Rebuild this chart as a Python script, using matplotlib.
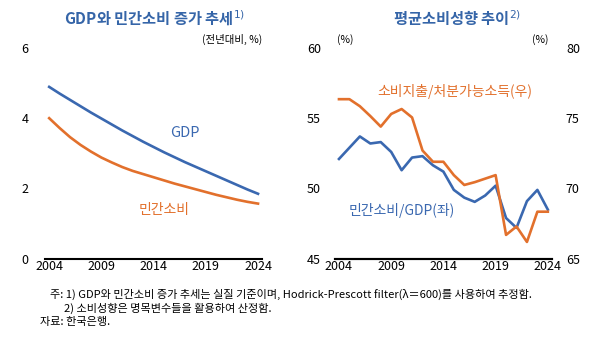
import matplotlib.pyplot as plt

plt.rcParams['font.family'] = ['Noto Sans CJK KR', 'DejaVu Sans']

BLUE = '#3a68b0'
ORANGE = '#e2702c'
TITLE = '#3565a8'

years = list(range(2004, 2025))

# left chart: HP-filter trend (%)
gdp_trend = [4.89, 4.70, 4.52, 4.34, 4.16, 3.99, 3.82, 3.65, 3.49, 3.33, 3.18,
             3.03, 2.89, 2.75, 2.62, 2.49, 2.36, 2.23, 2.10, 1.97, 1.85]
cons_trend = [4.00, 3.72, 3.46, 3.24, 3.05, 2.88, 2.74, 2.61, 2.50, 2.41, 2.32,
              2.23, 2.14, 2.06, 1.98, 1.90, 1.82, 1.75, 1.68, 1.62, 1.57]

# right chart: consumption propensity (%)
cons_gdp = [52.1, 52.9, 53.7, 53.2, 53.3, 52.6, 51.3, 52.2, 52.3, 51.65, 51.2,
            49.9, 49.35, 49.05, 49.5, 50.2, 47.9, 47.2, 49.1, 49.9, 48.5]
cons_income = [76.35, 76.35, 75.85, 75.15, 74.4, 75.3, 75.65, 75.05, 72.7, 71.9, 71.9,
               70.95, 70.25, 70.45, 70.7, 70.95, 66.7, 67.3, 66.2, 68.35, 68.35]

xticks = [2004, 2009, 2014, 2019, 2024]

fig = plt.figure(figsize=(6, 3.37), dpi=100)

# ---- left panel
ax1 = fig.add_axes([0.075, 0.232, 0.362, 0.626])
ax1.plot(years, gdp_trend, color=BLUE, lw=1.9)
ax1.plot(years, cons_trend, color=ORANGE, lw=1.9)
ax1.set_xlim(2003.6, 2024.4)
ax1.set_ylim(0, 6)
ax1.set_yticks([0, 2, 4, 6])
ax1.set_xticks(xticks)
for s in ['top', 'right', 'left']:
    ax1.spines[s].set_visible(False)
ax1.spines['bottom'].set_linewidth(1.5)
ax1.tick_params(length=0, labelsize=9, pad=1)
ax1.tick_params(axis='y', pad=12)
ax1.text(2017.0, 3.58, 'GDP', color=BLUE, fontsize=10.5, ha='center', va='center')
ax1.text(2015.0, 1.39, '민간소비', color=ORANGE, fontsize=10, ha='center', va='center')
ax1.text(2024.4, 6.23, '(전년대비, %)', fontsize=7.5, ha='right', va='center')

fig.text(0.258, 0.945, 'GDP와 민간소비 증가 추세$^{1)}$', color=TITLE, fontsize=11,
         fontweight='bold', ha='center', va='center')

# ---- right panel
ax2 = fig.add_axes([0.558, 0.232, 0.362, 0.626])
ax2.plot(years, cons_gdp, color=BLUE, lw=1.9)
ax2.set_xlim(2003.6, 2024.4)
ax2.set_ylim(45, 60)
ax2.set_yticks([45, 50, 55, 60])
ax2.set_xticks(xticks)
ax3 = ax2.twinx()
ax3.plot(years, cons_income, color=ORANGE, lw=1.9)
ax3.set_ylim(65, 80)
ax3.set_yticks([65, 70, 75, 80])
for a in (ax2, ax3):
    for s in ['top', 'right', 'left']:
        a.spines[s].set_visible(False)
    a.spines['bottom'].set_linewidth(1.5)
    a.tick_params(length=0, labelsize=9, pad=1)
ax2.tick_params(axis='y', pad=10)
ax3.tick_params(axis='y', pad=10)
ax2.text(2004.6, 60.6, '(%)', fontsize=7.5, ha='center', va='center')
ax2.text(2023.3, 60.6, '(%)', fontsize=7.5, ha='center', va='center')
ax3.text(2015.1, 76.9, '소비지출/처분가능소득(우)', color=ORANGE, fontsize=10,
         ha='center', va='center')
ax2.text(2010.0, 48.44, '민간소비/GDP(좌)', color=BLUE, fontsize=10,
         ha='center', va='center')

fig.text(0.762, 0.945, '평균소비성향 추이$^{2)}$', color=TITLE, fontsize=11,
         fontweight='bold', ha='center', va='center')

# ---- notes
fig.text(0.083, 0.125, '주: 1) GDP와 민간소비 증가 추세는 실질 기준이며, Hodrick-Prescott filter(λ＝600)를 사용하여 추정함.',
         fontsize=8, va='center')
fig.text(0.107, 0.085, '2) 소비성향은 명목변수들을 활용하여 산정함.', fontsize=8, va='center')
fig.text(0.066, 0.045, '자료: 한국은행.', fontsize=8, va='center')

fig.savefig('out.png', dpi=100)
